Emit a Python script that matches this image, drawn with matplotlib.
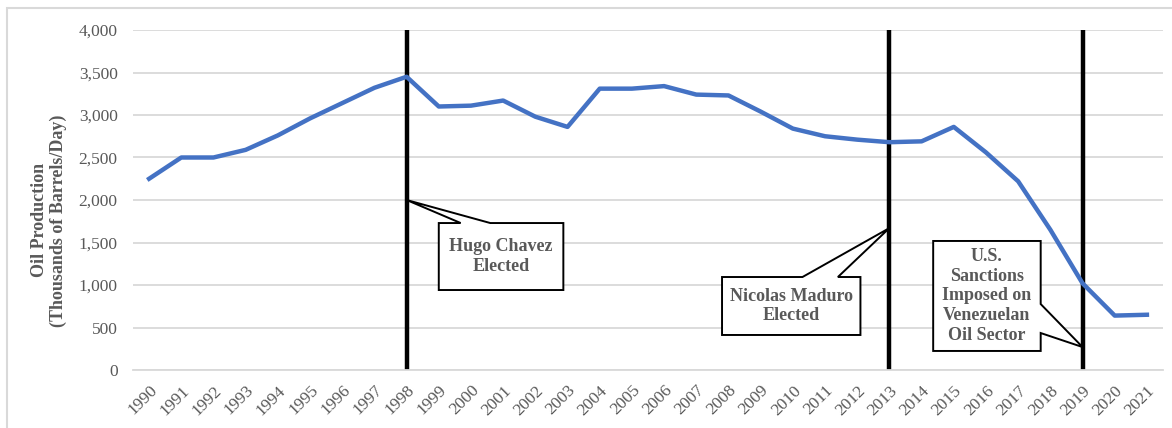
import numpy as np
import matplotlib.pyplot as plt
from matplotlib.patches import Polygon, Rectangle

plt.rcParams['font.family'] = ['Liberation Serif', 'DejaVu Serif']

# ---- data ----
years = list(range(1990, 2022))
production = [2250, 2500, 2500, 2590, 2760, 2960, 3140, 3320, 3450, 3100,
              3110, 3170, 2980, 2860, 3310, 3310, 3340, 3240, 3230, 3040,
              2840, 2750, 2710, 2680, 2690, 2860, 2560, 2220, 1650, 1020,
              640, 650]
event_years = [1998, 2013, 2019]
event_labels = ['Hugo Chavez\nElected', 'Nicolas Maduro\nElected',
                'U.S.\nSanctions\nImposed on\nVenezuelan\nOil Sector']

GREY = '#595959'
GRID = '#d9d9d9'

fig = plt.figure(figsize=(11.72, 4.28), dpi=100)
ax = fig.add_axes([133 / 1172, 1 - 370 / 428, 1030 / 1172, 340 / 428])

x = np.arange(len(years))
ax.plot(x, production, color='#4472C4', lw=3.2, solid_joinstyle='round', zorder=3)

for yr in event_years:
    xi = years.index(yr)
    ax.plot([xi, xi], [0, 4000], color='black', lw=3.2, zorder=2)

ax.set_xlim(-0.5, len(years) - 0.5)
ax.set_ylim(0, 4000)
ax.set_yticks(np.arange(0, 4001, 500))
ax.set_yticklabels([f'{v:,}' for v in range(0, 4001, 500)], color=GREY, fontsize=12.5)
ax.set_xticks(x)
ax.set_xticklabels([str(y) for y in years], rotation=45, ha='right', va='top',
                   rotation_mode='anchor', color=GREY, fontsize=12.5)
ax.tick_params(axis='y', length=0, pad=11)
ax.tick_params(axis='x', length=0, pad=9)
ax.grid(axis='y', color=GRID, lw=1.3)
ax.set_axisbelow(True)
for s in ['top', 'right', 'left']:
    ax.spines[s].set_visible(False)
ax.spines['bottom'].set_color(GRID)
ax.spines['bottom'].set_linewidth(1.3)

ax.set_ylabel('Oil Production\n(Thousands of Barrels/Day)', color=GREY,
              fontsize=13, fontweight='bold', linespacing=1.15)
ax.yaxis.set_label_coords(-0.064, 0.44)


def callout(box, tip, base, side, text):
    # box = (x0, x1, y0, y1) in data units (x as year)
    x0, x1, y0, y1 = [box[0] - 1990, box[1] - 1990, box[2], box[3]]
    tx, ty = tip[0] - 1990, tip[1]
    if side == 'top':
        b1, b2 = base[0] - 1990, base[1] - 1990
        pts = [(x0, y1), (b1, y1), (tx, ty), (b2, y1), (x1, y1), (x1, y0), (x0, y0)]
    else:  # right
        b1, b2 = base
        pts = [(x0, y1), (x1, y1), (x1, b1), (tx, ty), (x1, b2), (x1, y0), (x0, y0)]
    ax.add_patch(Polygon(pts, closed=True, facecolor='white', edgecolor='black',
                         lw=1.4, zorder=4, joinstyle='miter'))
    ax.text((x0 + x1) / 2, (y0 + y1) / 2, text, ha='center', va='center',
            fontsize=13, fontweight='bold', color=GREY, zorder=5, linespacing=1.22)


callout((1999.0, 2002.87, 941, 1729), (1998, 2000), (1999.68, 2000.6), 'top', event_labels[0])
callout((2007.8, 2012.1, 412, 1094), (2013, 1670), (2010.3, 2011.4), 'top', event_labels[1])
callout((2014.36, 2017.7, 224, 1518), (2019, 270), (776, 435), 'right', event_labels[2])

# outer chart border
fig.add_artist(Rectangle((7 / 1172, -0.1), 1.2, 1 - 8 / 428 + 0.1,
                         transform=fig.transFigure, fill=False,
                         edgecolor=GRID, lw=1.5))

fig.savefig('out.png', dpi=100, facecolor='white')
